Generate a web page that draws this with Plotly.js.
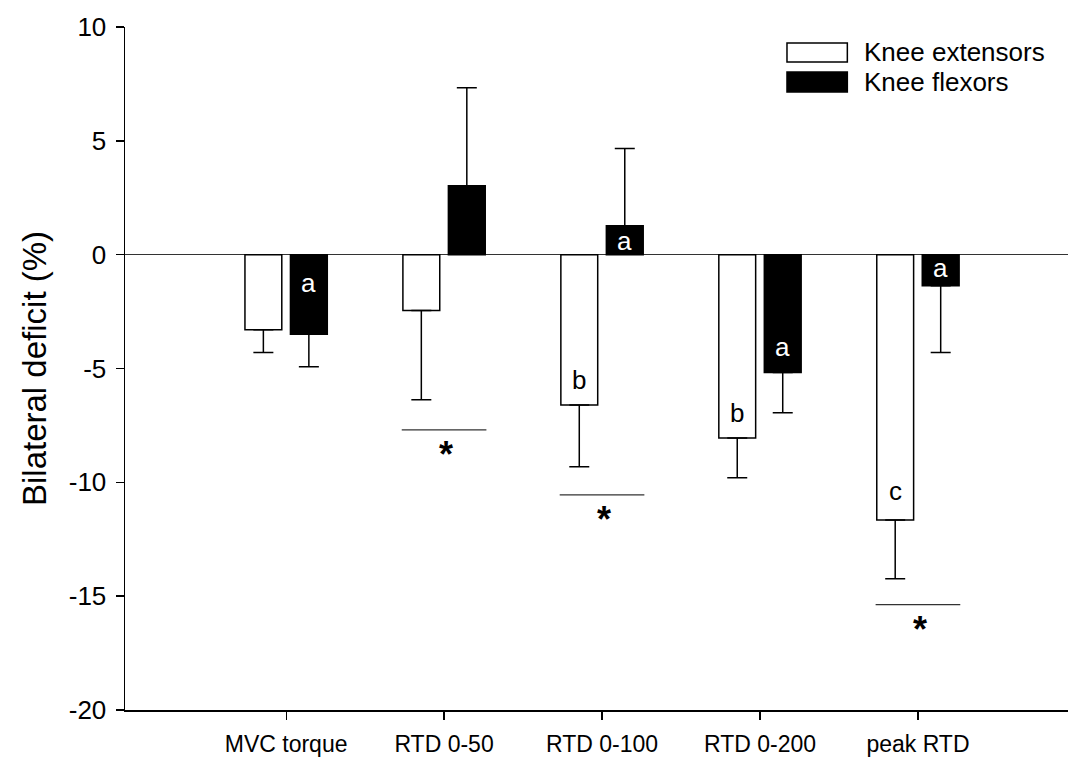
<!DOCTYPE html>
<html>
<head>
<meta charset="utf-8">
<script src="https://cdn.plot.ly/plotly-3.0.1.min.js"></script>
<style>html,body{margin:0;padding:0;background:#fff;}#chart{width:1070px;height:758px;}</style>
</head>
<body>
<div id="chart"></div>
<script>
// ---- data ----
var categories = ["MVC torque", "RTD 0-50", "RTD 0-100", "RTD 0-200", "peak RTD"];
var extensorMean = [-3.3, -2.45, -6.6, -8.05, -11.65];
var extensorSE   = [1.0, 3.92, 2.72, 1.75, 2.58];
var flexorMean   = [-3.5, 3.03, 1.27, -5.18, -1.36];
var flexorSE     = [1.42, 4.3, 3.39, 1.76, 2.94];
var yTicks = [-20, -15, -10, -5, 0, 5, 10];

// letters inside bars: [category index, group (-1 ext, +1 flex), y, text]
var letterCat   = [0, 2, 2, 3, 3, 4, 4];
var letterGroup = [1, -1, 1, -1, 1, -1, 1];
var letterY     = [-1.25, -5.5, 0.6, -6.95, -4.05, -10.4, -0.58];
var letterText  = ["a", "b", "a", "b", "a", "c", "a"];

// significance markers
var sigCat = [1, 2, 4];
var sigY   = [-7.7, -10.55, -15.37];

// ---- build ----
function oneSided(mean, err) {
  return {
    type: 'data', symmetric: false,
    array: mean.map(function (m, i) { return m >= 0 ? err[i] : 0; }),
    arrayminus: mean.map(function (m, i) { return m < 0 ? err[i] : 0; }),
    color: '#000', thickness: 1.5, width: 10
  };
}

var traces = [
  {
    type: 'bar', name: 'Knee extensors', x: categories, y: extensorMean,
    marker: {color: '#fff', line: {color: '#000', width: 1.5}},
    error_y: oneSided(extensorMean, extensorSE), showlegend: false, hoverinfo: 'x+y'
  },
  {
    type: 'bar', name: 'Knee flexors', x: categories, y: flexorMean,
    marker: {color: '#000', line: {color: '#000', width: 1.5}},
    error_y: oneSided(flexorMean, flexorSE), showlegend: false, hoverinfo: 'x+y'
  }
];

var groupOffset = 0.144;
var annotations = [];
var shapes = [];
var FONT = 'Liberation Sans, Arial, sans-serif';

for (var i = 0; i < letterText.length; i++) {
  var isFlex = letterGroup[i] > 0;
  annotations.push({
    xref: 'x', yref: 'y', x: letterCat[i] + letterGroup[i] * groupOffset, y: letterY[i],
    text: letterText[i], showarrow: false,
    font: {family: FONT, size: 26, color: isFlex ? '#fff' : '#000'}
  });
}
for (var j = 0; j < sigCat.length; j++) {
  shapes.push({
    type: 'line', xref: 'x', yref: 'y',
    x0: sigCat[j] - 0.268, x1: sigCat[j] + 0.268, y0: sigY[j], y1: sigY[j],
    line: {color: '#333', width: 1.2}
  });
  annotations.push({
    xref: 'x', yref: 'y', x: sigCat[j], y: sigY[j], yanchor: 'top', yshift: -2, xshift: 2,
    text: '<b>*</b>', showarrow: false,
    font: {family: FONT, size: 36, color: '#000'}
  });
}

// manual legend
var legendItems = [
  {name: 'Knee extensors', fill: '#fff', y0: 0.9488, y1: 0.9766, ty: 0.9634},
  {name: 'Knee flexors', fill: '#000', y0: 0.905, y1: 0.934, ty: 0.9195}
];
legendItems.forEach(function (it) {
  shapes.push({
    type: 'rect', xref: 'paper', yref: 'paper', x0: 0.702, x1: 0.766, y0: it.y0, y1: it.y1,
    fillcolor: it.fill, line: {color: '#000', width: 1.5}
  });
  annotations.push({
    xref: 'paper', yref: 'paper', x: 0.7816, y: it.ty, xanchor: 'left', yanchor: 'middle',
    text: it.name, showarrow: false, font: {family: FONT, size: 26, color: '#000'}
  });
});

var layout = {
  width: 1070, height: 758,
  margin: {l: 125, r: 2, t: 27, b: 48, pad: 0},
  paper_bgcolor: '#fff', plot_bgcolor: '#fff',
  font: {family: FONT, color: '#000'},
  barmode: 'group', bargap: 0.424, bargroupgap: 0.19,
  showlegend: false,
  xaxis: {
    type: 'category', range: [-1.02, 4.95],
    showline: true, linecolor: '#000', linewidth: 1.5,
    ticks: 'outside', ticklen: 8, tickwidth: 1.2, tickcolor: '#000',
    ticklabelstandoff: 5,
    tickfont: {family: FONT, size: 23, color: '#000'},
    showgrid: false, zeroline: false, fixedrange: true
  },
  yaxis: {
    range: [-20, 10], tickvals: yTicks, ticktext: yTicks.map(String),
    showline: true, linecolor: '#000', linewidth: 1.5,
    ticks: 'outside', ticklen: 8, tickwidth: 1.5, tickcolor: '#000',
    ticklabelstandoff: 4,
    tickfont: {family: FONT, size: 26, color: '#000'},
    showgrid: false, zeroline: true, zerolinecolor: '#333', zerolinewidth: 1.5,
    title: {text: 'Bilateral deficit (%)', font: {family: FONT, size: 33, color: '#000'}, standoff: 12},
    fixedrange: true
  },
  annotations: annotations,
  shapes: shapes
};

Plotly.newPlot('chart', traces, layout, {displayModeBar: false, staticPlot: true});
</script>
</body>
</html>
